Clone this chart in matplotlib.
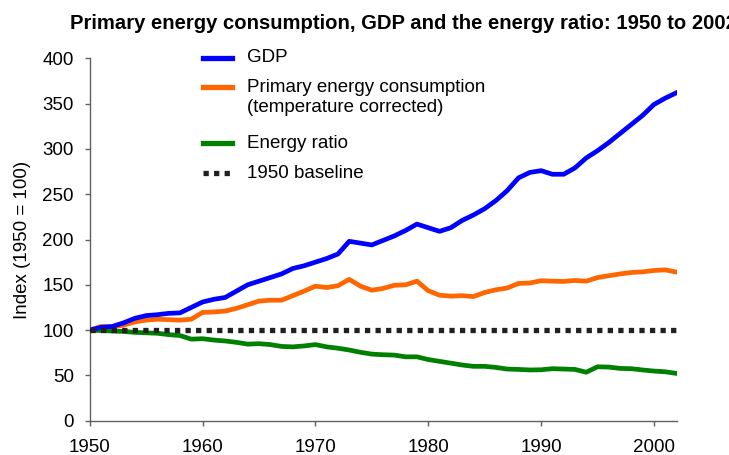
import matplotlib
matplotlib.use("Agg")
import matplotlib.pyplot as plt
from matplotlib.lines import Line2D

years = list(range(1950, 2003))
gdp = [100, 103, 104, 108, 113, 116, 117, 118.5, 119, 125,
       131, 134, 136, 143, 150, 154, 158, 162, 168, 171,
       175, 179, 184, 198, 196, 194, 199, 204, 210, 217,
       213, 209, 213, 221, 227, 234, 243, 254, 268, 274,
       276, 272, 272, 279, 290, 298, 307, 317, 327, 337,
       349, 356, 362]
energy = [100, 104, 103.5, 105.5, 109, 111, 112, 111.5, 111, 112,
          119.5, 120, 121, 124, 128, 132, 133, 133, 138, 143,
          148.5, 147, 149, 156, 148.5, 144, 146, 149.5, 150, 154,
          143.5, 138.5, 137.5, 138, 137, 141.5, 144.5, 146.5, 151.5, 152,
          154.5, 154, 153.7, 154.8, 154, 158, 160, 162, 163.6, 164.3,
          165.8, 166.5, 164]
ratio = [100, 99.5, 99, 98.5, 97.5, 97, 96.5, 95, 94, 90,
         90.5, 89, 88, 86.5, 84.5, 85, 84, 82, 81.5, 82.5,
         84, 81.5, 80, 78, 75.5, 73.5, 72.8, 72.4, 70.5, 70.5,
         67.5, 65.5, 63.5, 61.5, 60, 60, 58.8, 57, 56.6, 56,
         56.2, 57.4, 57, 56.6, 53.5, 59.5, 59.2, 57.7, 57.4, 56,
         54.8, 54, 52.2]
baseline = [100] * len(years)

xticks = [1950, 1960, 1970, 1980, 1990, 2000]
yticks = [0, 50, 100, 150, 200, 250, 300, 350, 400]
title = "Primary energy consumption, GDP and the energy ratio: 1950 to 2002"
labels = ["GDP", "Primary energy consumption", "(temperature corrected)",
          "Energy ratio", "1950 baseline"]

plt.rcParams['font.family'] = ['Liberation Sans', 'DejaVu Sans']

W, H = 729, 455
fig = plt.figure(figsize=(W / 100, H / 100), dpi=100)
fx = lambda px: px / W
fy = lambda py: 1 - py / H

ax = fig.add_axes([fx(89.7), fy(420.7), fx(676.5) - fx(89.7), fy(58.3) - fy(420.7)])

blue, orange, green, black = '#0000FF', '#FF6600', '#008000', '#231F20'
lw = 3.4
ax.plot(years, baseline, color=black, lw=3.8, linestyle=(0, (1, 1)),
        dash_capstyle='butt', zorder=4)
ax.plot(years, ratio, color=green, lw=lw, solid_joinstyle='round', zorder=3)
ax.plot(years, energy, color=orange, lw=lw, solid_joinstyle='round', zorder=3)
ax.plot(years, gdp, color=blue, lw=lw, solid_joinstyle='round', zorder=3)

ax.set_xlim(1950, 2002)
ax.set_ylim(0, 400)
ax.set_xticks(xticks)
ax.set_yticks(yticks)
for s in ['top', 'right']:
    ax.spines[s].set_visible(False)
for s in ['left', 'bottom']:
    ax.spines[s].set_color('#606060')
    ax.spines[s].set_linewidth(1.0)
ax.tick_params(axis='both', direction='out', length=3.5, width=1.0,
               color='#606060', labelsize=13.5, labelcolor='black')
ax.tick_params(axis='y', pad=8)
ax.tick_params(axis='x', pad=10)
ax.set_ylabel("Index (1950 = 100)", fontsize=13.5, labelpad=8)

fig.text(fx(70), fy(29), title, fontsize=14.6, fontweight='bold',
         ha='left', va='baseline')

# legend (drawn manually to match layout)
leg_items = [
    (58, blue, '-', labels[0]),
    (87, orange, '-', labels[1]),
    (143, green, '-', labels[3]),
    (173, black, (0, (1, 1)), labels[4]),
]
for py, col, ls, lab in leg_items:
    fig.add_artist(Line2D([fx(203), fx(232)], [fy(py), fy(py)], color=col,
                          lw=3.8, linestyle=ls, dash_capstyle='butt',
                          transform=fig.transFigure))
    fig.text(fx(247), fy(py), lab, fontsize=13.5, ha='left', va='center')
fig.text(fx(247), fy(107), labels[2], fontsize=13.5, ha='left', va='center')

fig.savefig("out.png", dpi=100)
